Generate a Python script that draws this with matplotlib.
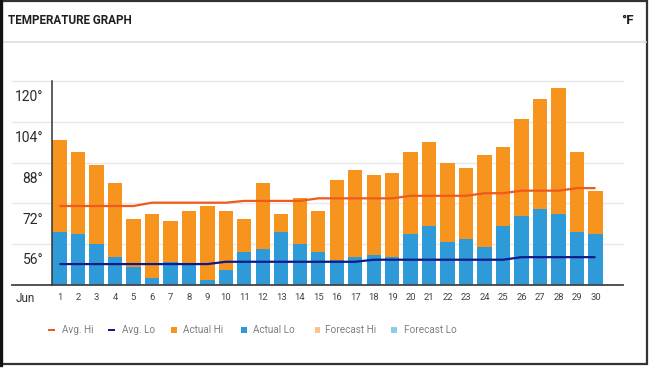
import matplotlib
matplotlib.use("Agg")
import matplotlib.pyplot as plt
from matplotlib.patches import Rectangle
from matplotlib.lines import Line2D

# ---- data ----
days = list(range(1, 31))
actual_hi = [105, 100, 95, 88, 74, 76, 73, 77, 79, 77, 74, 88, 76, 82, 77,
             89, 93, 91, 92, 100, 104, 96, 94, 99, 102, 113, 121, 125, 100, 85]
actual_lo = [69, 68, 64, 59, 55, 51, 57, 56, 50, 54, 61, 62, 69, 64, 61,
             58, 59, 60, 59, 68, 71, 65, 66, 63, 71, 75, 78, 76, 69, 68]
avg_hi = [79, 79, 79, 79, 79, 80.3, 80.3, 80.3, 80.3, 80.3, 81, 81, 81, 81, 82,
          82, 82, 82, 82, 83, 83, 83, 83, 84, 84, 85, 85, 85, 86, 86]
avg_lo = [56.3, 56.3, 56.3, 56.3, 56.3, 56.3, 56.3, 56.3, 56.3, 57.2, 57.2, 57.2, 57.2, 57.2, 57.2,
          57.2, 57.2, 58, 58, 58, 58, 58, 58, 58, 58, 59, 59, 59, 59, 59]
ytick_vals = [56, 72, 88, 104, 120]
ytick_labels = ["56°", "72°", "88°", "104°", "120°"]
grid_vals = [64, 80, 96, 112, 128]
legend_labels = ["Avg. Hi", "Avg. Lo", "Actual Hi", "Actual Lo", "Forecast Hi", "Forecast Lo"]
month_label = "Jun"

# ---- style ----
C_HI = "#F7941E"
C_LO = "#2E9BD8"
C_AVGHI = "#EC5A1E"
C_AVGLO = "#0C1A8A"
C_FHI = "#F9C48E"
C_FLO = "#8FCBE8"
FONT = ["Roboto", "DejaVu Sans"]
plt.rcParams["font.family"] = FONT

W, H = 649, 368
fig = plt.figure(figsize=(W / 100, H / 100), dpi=100)
fig.patch.set_facecolor("white")

def fx(x):
    return x / W

def fy(y):
    return 1 - y / H

ax_l, ax_r, ax_t, ax_b = 51.7, 623, 80.7, 285.3
ax = fig.add_axes([fx(ax_l), fy(ax_b), fx(ax_r - ax_l), (ax_b - ax_t) / H])
ax.set_facecolor("none")
ax.set_ylim(48, 128)
ax.set_xlim(0.578, 31.49)
for s in ax.spines.values():
    s.set_visible(False)

# gridlines extending left of the axis
x0 = (12 - ax_l) / (ax_r - ax_l)
ytr = ax.get_yaxis_transform()
for g in grid_vals:
    ax.plot([x0, 1], [g, g], transform=ytr, color="#e8e8e8", lw=1.0, clip_on=False, zorder=0)
ax.plot([x0, 1], [48, 48], transform=ytr, color="#444444", lw=1.3, clip_on=False, zorder=5)
ax.plot([0, 0], [48, 128], transform=ytr, color="#333333", lw=1.1, clip_on=False, zorder=5)

bw = 0.774
ax.bar(days, actual_hi, width=bw, color=C_HI, zorder=2)
ax.bar(days, actual_lo, width=bw, color=C_LO, zorder=3)
ax.plot(days, avg_hi, color=C_AVGHI, lw=1.6, zorder=4, solid_capstyle="butt")
ax.plot(days, avg_lo, color=C_AVGLO, lw=1.6, zorder=4, solid_capstyle="butt")

ax.set_xticks(days)
ax.set_xticklabels([str(d) for d in days], fontsize=6.8, color="#444444")
ax.tick_params(axis="x", length=0, pad=5.5)
ax.set_yticks([])

xl = (43.3 - ax_l) / (ax_r - ax_l)
for v, lab in zip(ytick_vals, ytick_labels):
    ax.text(xl, v + 1.7, lab, transform=ytr, ha="right", va="center",
            fontsize=10, color="#2a2a2a")

fig.text(fx(25.8), fy(298.3), month_label, ha="center", va="center", fontsize=8.5, color="#333333")

# header
fig.text(fx(8.5), fy(20.7), "TEMPERATURE GRAPH", ha="left", va="center",
         fontsize=8.4, fontweight="bold", color="#1e1e1e")
fig.text(fx(634), fy(20.5), "°F", ha="right", va="center",
         fontsize=9.5, fontweight="bold", color="#1e1e1e")
fig.add_artist(Line2D([fx(3), fx(646)], [fy(41.7), fy(41.7)], color="#dddddd", lw=1.2))

# legend
ly = 330
legend_items = [
    ("dash", C_AVGHI, 48, 55, 61.7),
    ("dash", C_AVGLO, 108, 115, 121.7),
    ("sq", C_HI, 170.7, 176.7, 183.3),
    ("sq", C_LO, 240.7, 247.0, 253.3),
    ("sq", C_FHI, 314.5, 320.0, 325.0),
    ("sq", C_FLO, 390.7, 396.7, 404.3),
]
for (kind, col, m0, m1, tx), lab in zip(legend_items, legend_labels):
    if kind == "dash":
        fig.add_artist(Rectangle((fx(m0), fy(ly + 1.3)), fx(m1 - m0), 2.6 / H,
                                 color=col, lw=0))
    else:
        fig.add_artist(Rectangle((fx(m0), fy(ly + 3)), fx(m1 - m0), 6 / H,
                                 color=col, lw=0))
    fig.text(fx(tx), fy(ly), lab, ha="left", va="center", fontsize=7.2, color="#808080")

# outer frame
fig.add_artist(Rectangle((fx(1.2), fy(364)), fx(646.5 - 1.2), (364 - 1) / H,
                         fill=False, edgecolor="#333333", lw=1.6))
fig.add_artist(Line2D([fx(1.2), fx(1.2)], [fy(0.5), fy(364.5)], color="#111111", lw=2.4))

fig.savefig("out.png", dpi=100)
